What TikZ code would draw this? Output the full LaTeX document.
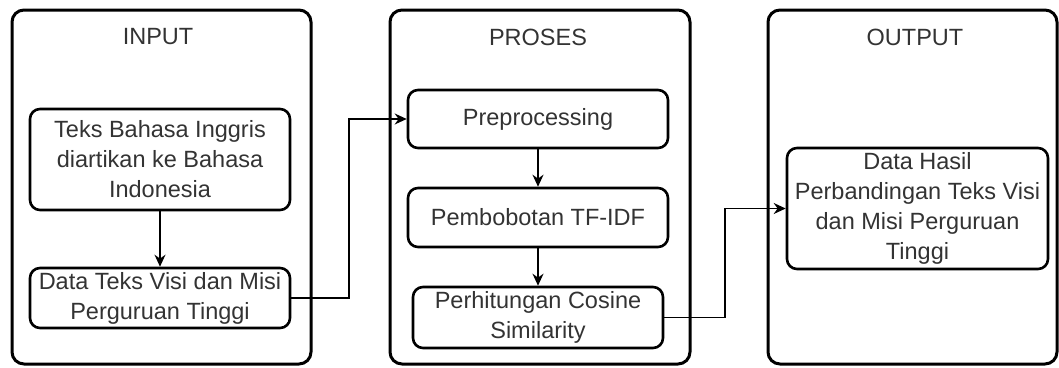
\documentclass[tikz,border=0pt]{standalone}
\usepackage{fontspec}
\setmainfont{Liberation Sans}
\usetikzlibrary{arrows.meta,calc}
\definecolor{txtgray}{HTML}{333333}

\begin{document}
\begin{tikzpicture}[x=1pt,y=-1pt,
  panel/.style={draw,line width=3pt,rounded corners=12pt,inner sep=0pt},
  box/.style={draw,line width=2.6pt,rounded corners=10pt,inner sep=0pt,align=center,text=txtgray,font=\fontsize{23.5}{30}\selectfont},
  title/.style={text=txtgray,font=\fontsize{23.5}{30}\selectfont},
  conn/.style={line width=1.4pt,-{Stealth[length=12pt,width=11pt]}}]
\useasboundingbox(0,0)rectangle(1059,367);
\node[panel,minimum width=299pt,minimum height=354pt](inp)at(161.5,187){};
\node[panel,minimum width=300pt,minimum height=354pt](pros)at(540,187){};
\node[panel,minimum width=289pt,minimum height=354pt](outp)at(912.5,187){};
\node[title](tinp)at(158,37){INPUT};\node[title](tpros)at(538,37){PROSES};\node[title](toutp)at(915,37){OUTPUT};
\node[box,minimum width=260pt,minimum height=101pt](teks)at(160,159.5){Teks Bahasa Inggris\\diartikan ke Bahasa\\Indonesia};
\node[box,minimum width=260pt,minimum height=60pt](data)at(160,298){Data Teks Visi dan Misi\\Perguruan Tinggi};
\node[box,minimum width=260pt,minimum height=58pt](prep)at(538,119){Preprocessing};
\node[box,minimum width=260pt,minimum height=59pt](bobot)at(538,217.5){Pembobotan TF-IDF};
\node[box,minimum width=250pt,minimum height=61pt](cos)at(538,317.5){Perhitungan Cosine\\Similarity};
\node[box,minimum width=261pt,minimum height=121pt](hasil)at(917.5,208.5){Data Hasil\\Perbandingan Teks Visi\\dan Misi Perguruan\\Tinggi};
\coordinate(bend1)at(349,200);\coordinate(bend2)at(725,260);
\draw[conn](teks)--(data);\draw[conn](prep)--(bobot);\draw[conn](bobot)--(cos);
\draw[conn](data.east)-|(bend1)|-(prep.west);\draw[conn](cos.east)-|(bend2)|-(hasil.west);
\end{tikzpicture}
\end{document}
